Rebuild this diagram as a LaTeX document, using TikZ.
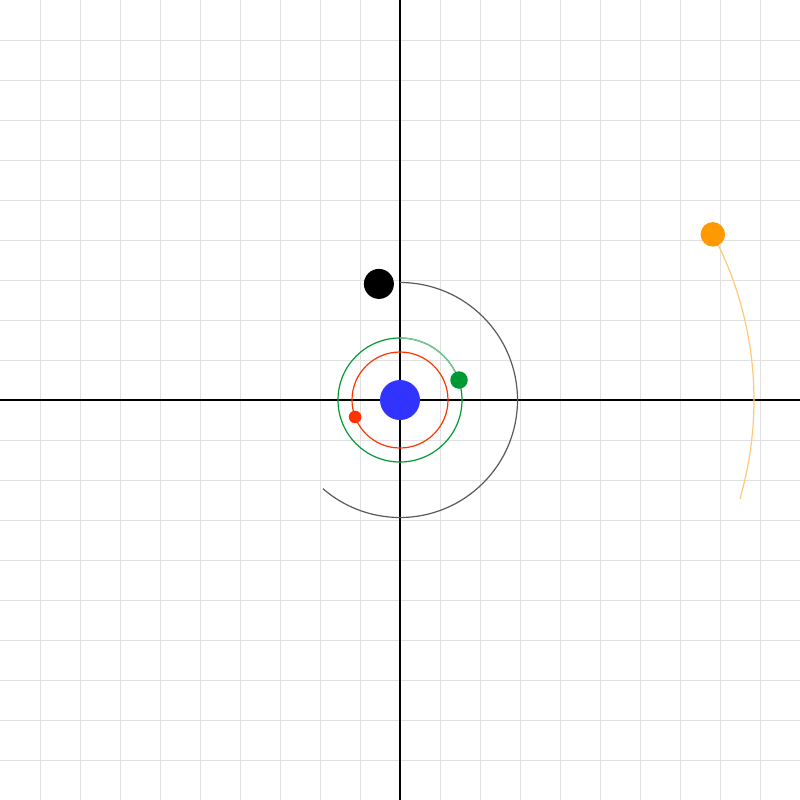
\documentclass[tikz,border=0pt]{standalone}
\begin{document}
\begin{tikzpicture}[x=0.25mm,y=0.25mm,
  gridline/.style={draw=black!12, line width=0.7pt},
  axis/.style={draw=black, line width=1.4pt},
  orbit/.style={line width=0.85pt},
  body/.style={circle, inner sep=0pt, draw=none}]
\useasboundingbox (-400,-400) rectangle (400,400);
\fill[white] (-400,-400) rectangle (400,400);
\foreach \g in {-360,-320,...,360} {
  \draw[gridline] (\g,-400) -- (\g,400);
  \draw[gridline] (-400,\g) -- (400,\g);
}
\draw[axis] (-400,0) -- (400,0);
\draw[axis] (0,-400) -- (0,400);
% orbits
\draw[orbit, draw={rgb,255:red,255;green,51;blue,0}] (0,0) circle (48);
\draw[orbit, draw={rgb,255:red,0;green,153;blue,51}] (0,0) circle (62);
\draw[orbit, draw={rgb,255:red,120;green,200;blue,150}] (18.7:62) arc (18.7:90:62);
\draw[orbit, draw=black!65] (90:117.5) arc (90:-131:117.5);
\draw[orbit, draw={rgb,255:red,255;green,200;blue,120}] (27.9:354) arc (27.9:-16.2:354);
% bodies
\node[body, fill={rgb,255:red,51;green,51;blue,255}, minimum size=40*0.25mm] (sun) at (0,0) {};
\node[body, fill={rgb,255:red,255;green,51;blue,0}, minimum size=12.6*0.25mm] (red) at (200.7:48) {};
\node[body, fill={rgb,255:red,0;green,153;blue,51}, minimum size=17.5*0.25mm] (green) at (18.7:62.3) {};
\node[body, fill=black, minimum size=30*0.25mm] (black) at (100.3:118) {};
\node[body, fill={rgb,255:red,255;green,153;blue,0}, minimum size=24.5*0.25mm] (orange) at (27.9:354) {};
\end{tikzpicture}
\end{document}
